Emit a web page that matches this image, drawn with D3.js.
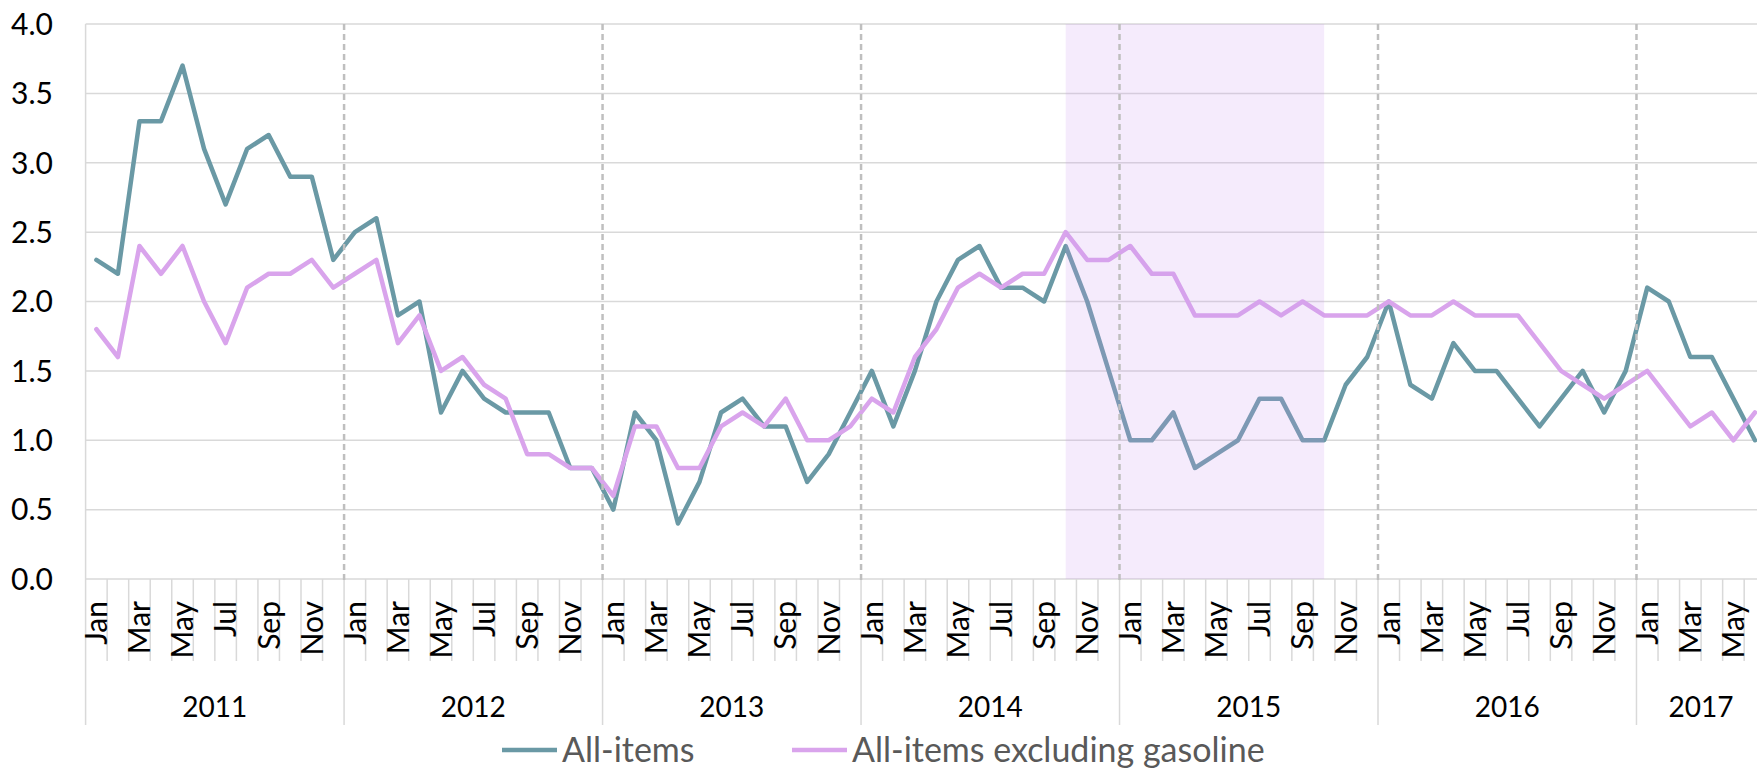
<!DOCTYPE html>
<html lang="en">
<head>
<meta charset="utf-8">
<title>CPI, 12-month % change</title>
<script src="https://d3js.org/d3.v7.min.js"></script>
<style>
  body { margin: 0; background: #fff; }
  text { font-family: Lato, "Open Sans", sans-serif; }
</style>
</head>
<body>
<script>
// canvas setting
const SvgWidth = 1757
const SvgHeight = 769
const plotLeft = 85.6
const monthWidth = 21.54
const plotTop = 24
const plotBottom = 579

// data
const years = ["2011", "2012", "2013", "2014", "2015", "2016", "2017"]
const monthsPerYear = [12, 12, 12, 12, 12, 12, 6]
const monthNames = ["Jan", "Feb", "Mar", "Apr", "May", "Jun", "Jul", "Aug", "Sep", "Oct", "Nov", "Dec"]
const yTicks = [0, 0.5, 1, 1.5, 2, 2.5, 3, 3.5, 4]

const allItems = [
  2.3, 2.2, 3.3, 3.3, 3.7, 3.1, 2.7, 3.1, 3.2, 2.9, 2.9, 2.3,
  2.5, 2.6, 1.9, 2.0, 1.2, 1.5, 1.3, 1.2, 1.2, 1.2, 0.8, 0.8,
  0.5, 1.2, 1.0, 0.4, 0.7, 1.2, 1.3, 1.1, 1.1, 0.7, 0.9, 1.2,
  1.5, 1.1, 1.5, 2.0, 2.3, 2.4, 2.1, 2.1, 2.0, 2.4, 2.0, 1.5,
  1.0, 1.0, 1.2, 0.8, 0.9, 1.0, 1.3, 1.3, 1.0, 1.0, 1.4, 1.6,
  2.0, 1.4, 1.3, 1.7, 1.5, 1.5, 1.3, 1.1, 1.3, 1.5, 1.2, 1.5,
  2.1, 2.0, 1.6, 1.6, 1.3, 1.0
]
const exGasoline = [
  1.8, 1.6, 2.4, 2.2, 2.4, 2.0, 1.7, 2.1, 2.2, 2.2, 2.3, 2.1,
  2.2, 2.3, 1.7, 1.9, 1.5, 1.6, 1.4, 1.3, 0.9, 0.9, 0.8, 0.8,
  0.6, 1.1, 1.1, 0.8, 0.8, 1.1, 1.2, 1.1, 1.3, 1.0, 1.0, 1.1,
  1.3, 1.2, 1.6, 1.8, 2.1, 2.2, 2.1, 2.2, 2.2, 2.5, 2.3, 2.3,
  2.4, 2.2, 2.2, 1.9, 1.9, 1.9, 2.0, 1.9, 2.0, 1.9, 1.9, 1.9,
  2.0, 1.9, 1.9, 2.0, 1.9, 1.9, 1.9, 1.7, 1.5, 1.4, 1.3, 1.4,
  1.5, 1.3, 1.1, 1.2, 1.0, 1.2
]
const seriesNames = ["All-items", "All-items excluding gasoline"]
const seriesColors = ["#6a99a5", "#d9a4ec"]
// shaded period, from month to month
const shadeFrom = "Oct 2014"
const shadeTo = "Oct 2015"

// month list
var months = []
years.forEach(function(yr, i){
  monthNames.slice(0, monthsPerYear[i]).forEach(function(m, j){
    months.push({key: m + " " + yr, month: m, year: yr, pos: j})
  })
})

var xScale = d3.scaleBand()
  .domain(months.map(d => d.key))
  .range([plotLeft, plotLeft + months.length * monthWidth])
  .padding(0)
var yScale = d3.scaleLinear().domain([0, 4]).range([plotBottom, plotTop])
const cx = key => xScale(key) + xScale.bandwidth() / 2

var svg = d3.select("body").append("svg")
  .attr("width", SvgWidth)
  .attr("height", SvgHeight)

// horizontal gridlines
svg.append("g").selectAll("line")
  .data(yTicks)
  .enter().append("line")
    .attr("x1", plotLeft).attr("x2", xScale.range()[1])
    .attr("y1", d => yScale(d)).attr("y2", d => yScale(d))
    .attr("stroke", "#d9d9d9").attr("stroke-width", 1.5)

// y labels
svg.append("g").selectAll("text")
  .data(yTicks)
  .enter().append("text")
    .attr("x", 53).attr("y", d => yScale(d))
    .attr("dy", "0.36em")
    .attr("text-anchor", "end")
    .attr("font-size", 30)
    .attr("fill", "#000")
    .text(d => d3.format(".1f")(d))

// category separators (month + year)
var bounds = d3.range(months.length + 1)
svg.append("g").selectAll("line")
  .data(bounds)
  .enter().append("line")
    .attr("x1", i => plotLeft + i * xScale.step())
    .attr("x2", i => plotLeft + i * xScale.step())
    .attr("y1", i => i == 0 ? plotTop : plotBottom)
    .attr("y2", i => (i == months.length || (months[i] && months[i].pos == 0)) ? 725 : 661)
    .attr("stroke", "#d9d9d9").attr("stroke-width", 1.5)

// month labels (every other month)
svg.append("g").selectAll("text")
  .data(months.filter(d => d.pos % 2 == 0))
  .enter().append("text")
    .attr("transform", d => "translate(" + cx(d.key) + ",601) rotate(-90)")
    .attr("dy", "0.36em")
    .attr("text-anchor", "end")
    .attr("font-size", 30)
    .attr("fill", "#000")
    .text(d => d.month)

// year labels
svg.append("g").selectAll("text")
  .data(years)
  .enter().append("text")
    .attr("x", function(yr){
      var ms = months.filter(d => d.year == yr)
      return (xScale(ms[0].key) + xScale(ms[ms.length - 1].key) + xScale.bandwidth()) / 2
    })
    .attr("y", 707).attr("dy", "0.36em")
    .attr("text-anchor", "middle")
    .attr("font-size", 28)
    .attr("fill", "#000")
    .text(d => d)

// lines
var line = d3.line()
  .x((d, i) => cx(months[i].key))
  .y(d => yScale(d))

svg.append("g").selectAll("path")
  .data([allItems, exGasoline])
  .enter().append("path")
    .attr("d", line)
    .attr("fill", "none")
    .attr("stroke", (d, i) => seriesColors[i])
    .attr("stroke-width", 4.5)
    .attr("stroke-linejoin", "round")
    .attr("stroke-linecap", "round")

// shaded period on top, translucent
svg.append("rect")
  .attr("x", cx(shadeFrom))
  .attr("y", plotTop)
  .attr("width", cx(shadeTo) - cx(shadeFrom))
  .attr("height", plotBottom - plotTop)
  .attr("fill", "#cc99ee")
  .attr("fill-opacity", 0.2)

// dashed year dividers
svg.append("g").selectAll("line")
  .data(years.slice(1))
  .enter().append("line")
    .attr("x1", yr => xScale("Jan " + yr)).attr("x2", yr => xScale("Jan " + yr))
    .attr("y1", plotTop).attr("y2", plotBottom + 4)
    .attr("stroke", "#bfbfbf").attr("stroke-width", 2.5)
    .attr("stroke-dasharray", "6,4")

// legend
var legendX = [502, 792]
var legend = svg.append("g").selectAll("g")
  .data(seriesNames)
  .enter().append("g")
    .attr("transform", (d, i) => "translate(" + legendX[i] + ",750)")
legend.append("line")
  .attr("x1", 0).attr("x2", 55)
  .attr("stroke", (d, i) => seriesColors[i])
  .attr("stroke-width", 4.5)
legend.append("text")
  .attr("x", 60).attr("dy", "0.34em")
  .attr("font-size", 34)
  .attr("fill", "#595959")
  .text(d => d)
</script>
</body>
</html>
